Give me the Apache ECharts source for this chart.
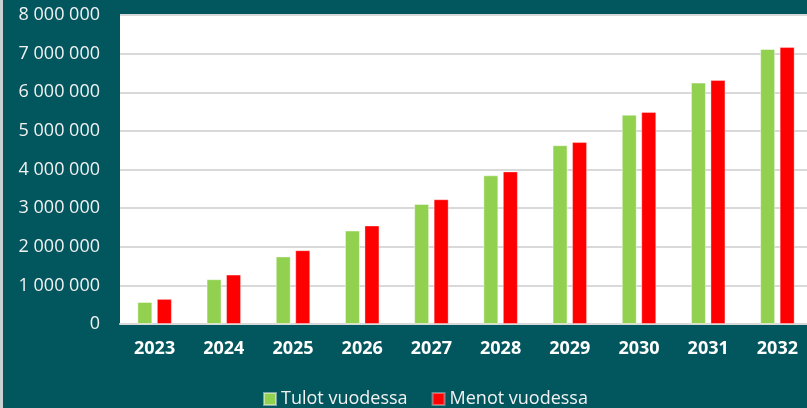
<!DOCTYPE html>
<html>
<head>
<meta charset="utf-8">
<script src="https://cdn.jsdelivr.net/npm/echarts@6/dist/echarts.min.js"></script>
<style>
  html, body { margin: 0; padding: 0; background: #02565d; }
  #chart { width: 807px; height: 408px; }
</style>
</head>
<body>
<div id="chart"></div>
<script>
const YEARS = ['2023', '2024', '2025', '2026', '2027', '2028', '2029', '2030', '2031', '2032']
const TULOT = [570000, 1160000, 1750000, 2420000, 3110000, 3850000, 4630000, 5420000, 6250000, 7120000]
const MENOT = [650000, 1280000, 1910000, 2550000, 3230000, 3950000, 4710000, 5490000, 6320000, 7170000]
const SERIES_NAMES = ['Tulot vuodessa', 'Menot vuodessa']

const FONT = '"Open Sans", sans-serif'

// Finnish style thousands: space separated
const fmt = (v) => String(v).replace(/\B(?=(\d{3})+(?!\d))/g, ' ')

const chart = echarts.init(document.getElementById('chart'), null, { renderer: 'canvas' })

chart.setOption({
  backgroundColor: '#02565d',
  animation: false,
  textStyle: { fontFamily: FONT },
  graphic: [
    { type: 'rect', left: 0, top: 0, shape: { width: 3, height: 408 }, style: { fill: '#c9d2d2' } },
  ],
  legend: {
    left: 258, top: 385,
    itemWidth: 12, itemHeight: 12, itemGap: 24,
    icon: 'rect',
    textStyle: { color: '#f2f2f2', fontSize: 18, fontFamily: FONT },
    data: SERIES_NAMES,
  },
  // plot runs a little past the right edge of the window, as in the original
  grid: {
    left: 120, width: 692, top: 15, bottom: 84,
    outerBoundsMode: 'none',
    show: true, backgroundColor: '#ffffff', borderWidth: 0,
  },
  xAxis: {
    type: 'category',
    data: YEARS,
    axisLine: { lineStyle: { color: '#d9d9d9', width: 2 } },
    axisTick: { show: false },
    axisLabel: { color: '#ffffff', fontSize: 18, fontWeight: 'bold', margin: 16, fontFamily: FONT },
  },
  yAxis: {
    type: 'value',
    min: 0, max: 8000000, interval: 1000000,
    axisLine: { show: false },
    axisTick: { show: false },
    axisLabel: { color: '#f2f2f2', fontSize: 18, margin: 20, fontFamily: FONT, formatter: fmt },
    splitLine: { lineStyle: { color: '#d9d9d9', width: 2 } },
  },
  series: [
    {
      name: SERIES_NAMES[0], type: 'bar', data: TULOT,
      barWidth: 15, barGap: '30%',
      itemStyle: { color: '#92d050', borderColor: 'rgba(255,255,255,0.45)', borderWidth: 1 },
    },
    {
      name: SERIES_NAMES[1], type: 'bar', data: MENOT,
      barWidth: 15, barGap: '30%',
      itemStyle: { color: '#ff0000', borderColor: 'rgba(255,255,255,0.35)', borderWidth: 1 },
    },
  ],
})
</script>
</body>
</html>
